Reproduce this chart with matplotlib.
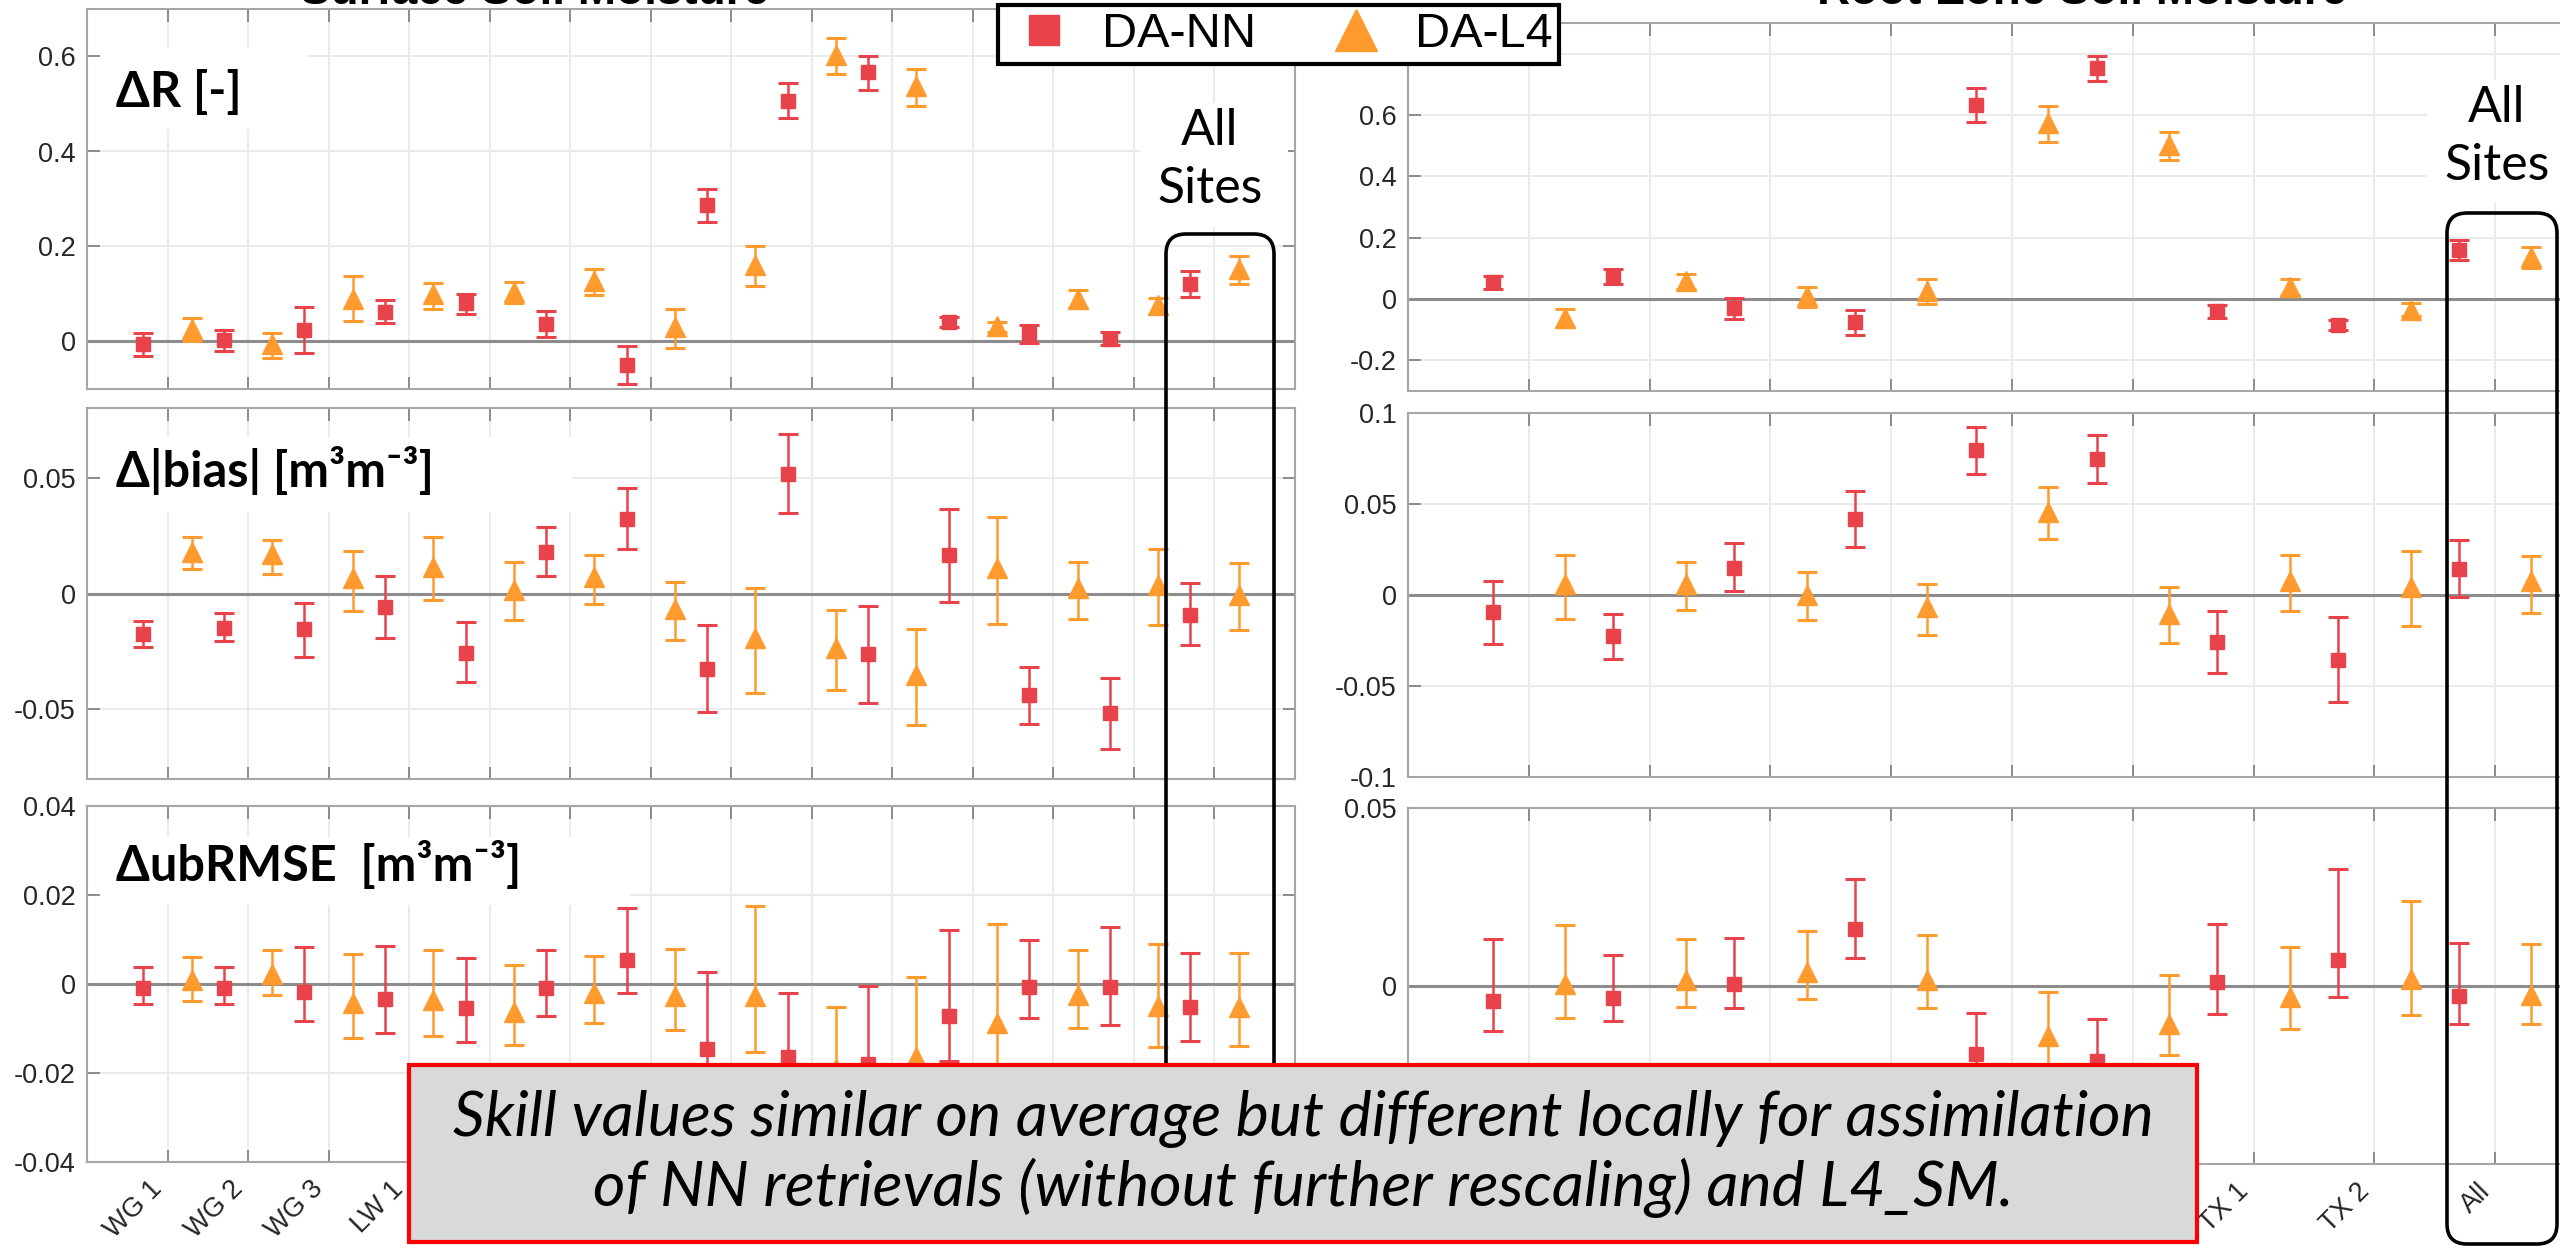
import matplotlib
matplotlib.use('Agg')
import matplotlib.pyplot as plt
import numpy as np
from matplotlib.lines import Line2D
from matplotlib.patches import Rectangle, FancyBboxPatch
from matplotlib.ticker import FuncFormatter

# ---- data ----
SURF_SITES = ['WG 1', 'WG 2', 'WG 3', 'LW 1', 'LW 2', 'LR 1', 'LR 2', 'RC 1', 'RC 2',
              'SJ 1', 'SJ 2', 'TX 1', 'TX 2', 'All']
ROOT_SITES = ['WG 1', 'WG 2', 'LW 1', 'LR 1', 'RC 1', 'SJ 1', 'TX 1', 'TX 2', 'All']

# surface, delta R
surf_r_nn = [-0.005, 0.004, 0.024, 0.063, 0.080, 0.037, -0.050, 0.288, 0.507, 0.567, 0.042, 0.015, 0.006, 0.121]
surf_r_nn_lo = [-0.030, -0.019, -0.025, 0.039, 0.058, 0.009, -0.089, 0.252, 0.470, 0.529, 0.030, -0.004, -0.008, 0.094]
surf_r_nn_hi = [0.018, 0.025, 0.072, 0.088, 0.101, 0.064, -0.010, 0.322, 0.544, 0.602, 0.052, 0.034, 0.021, 0.148]
surf_r_l4 = [0.027, -0.006, 0.090, 0.100, 0.105, 0.128, 0.030, 0.162, 0.603, 0.537, 0.033, 0.090, 0.076, 0.152]
surf_r_l4_lo = [0.000, -0.034, 0.043, 0.068, 0.082, 0.098, -0.013, 0.117, 0.563, 0.496, 0.021, 0.070, 0.058, 0.121]
surf_r_l4_hi = [0.050, 0.018, 0.137, 0.123, 0.126, 0.153, 0.069, 0.202, 0.639, 0.574, 0.041, 0.108, 0.092, 0.179]

# surface, delta |bias|
surf_bias_nn = [-0.0176, -0.0148, -0.0155, -0.0058, -0.0255, 0.0180, 0.0321, -0.0324, 0.0515, -0.0262, 0.0165, -0.0439, -0.0515, -0.0091]
surf_bias_nn_lo = [-0.0232, -0.0203, -0.0272, -0.0193, -0.0383, 0.0075, 0.0191, -0.0511, 0.0348, -0.0472, -0.0035, -0.0561, -0.0669, -0.0224]
surf_bias_nn_hi = [-0.0117, -0.0086, -0.0042, 0.0075, -0.0121, 0.0286, 0.0453, -0.0137, 0.0686, -0.0056, 0.0364, -0.0319, -0.0363, 0.0047]
surf_bias_l4 = [0.0180, 0.0170, 0.0065, 0.0115, 0.0014, 0.0072, -0.0065, -0.0194, -0.0237, -0.0353, 0.0108, 0.0022, 0.0036, -0.0007]
surf_bias_l4_lo = [0.0104, 0.0086, -0.0075, -0.0029, -0.0115, -0.0046, -0.0201, -0.0429, -0.0417, -0.0568, -0.0130, -0.0111, -0.0134, -0.0157]
surf_bias_l4_hi = [0.0243, 0.0230, 0.0184, 0.0242, 0.0137, 0.0165, 0.0050, 0.0022, -0.0073, -0.0153, 0.0331, 0.0137, 0.0190, 0.0131]

# surface, delta ubRMSE
surf_ub_nn = [-0.0010, -0.0010, -0.0019, -0.0034, -0.0055, -0.0010, 0.0055, -0.0146, -0.0163, -0.0180, -0.0073, -0.0006, -0.0006, -0.0051]
surf_ub_nn_lo = [-0.0046, -0.0046, -0.0083, -0.0110, -0.0130, -0.0073, -0.0020, -0.0300, -0.0300, -0.0350, -0.0174, -0.0077, -0.0092, -0.0127]
surf_ub_nn_hi = [0.0038, 0.0038, 0.0083, 0.0085, 0.0059, 0.0076, 0.0170, 0.0028, -0.0021, -0.0004, 0.0121, 0.0099, 0.0127, 0.0069]
surf_ub_l4 = [0.0009, 0.0022, -0.0043, -0.0036, -0.0062, -0.0021, -0.0026, -0.0027, -0.0190, -0.0163, -0.0088, -0.0025, -0.0049, -0.0052]
surf_ub_l4_lo = [-0.0038, -0.0025, -0.0121, -0.0116, -0.0138, -0.0087, -0.0103, -0.0152, -0.0330, -0.0320, -0.0300, -0.0099, -0.0142, -0.0139]
surf_ub_l4_hi = [0.0061, 0.0076, 0.0067, 0.0077, 0.0042, 0.0064, 0.0079, 0.0176, -0.0051, 0.0015, 0.0135, 0.0076, 0.0090, 0.0069]

# root zone, delta R
root_r_nn = [0.054, 0.074, -0.030, -0.076, 0.632, 0.752, -0.040, -0.084, 0.160]
root_r_nn_lo = [0.034, 0.049, -0.065, -0.118, 0.577, 0.712, -0.062, -0.100, 0.128]
root_r_nn_hi = [0.075, 0.099, 0.004, -0.035, 0.687, 0.793, -0.018, -0.067, 0.192]
root_r_l4 = [-0.062, 0.058, 0.010, 0.025, 0.575, 0.503, 0.040, -0.036, 0.137]
root_r_l4_lo = [-0.092, 0.031, -0.027, -0.017, 0.512, 0.453, 0.013, -0.057, 0.102]
root_r_l4_hi = [-0.034, 0.083, 0.040, 0.066, 0.630, 0.546, 0.064, -0.014, 0.169]

# root zone, delta |bias|
root_bias_nn = [-0.0092, -0.0227, 0.0149, 0.0418, 0.0794, 0.0748, -0.0257, -0.0356, 0.0143]
root_bias_nn_lo = [-0.0270, -0.0354, 0.0022, 0.0264, 0.0664, 0.0614, -0.0429, -0.0590, -0.0009]
root_bias_nn_hi = [0.0077, -0.0105, 0.0284, 0.0570, 0.0922, 0.0880, -0.0088, -0.0121, 0.0303]
root_bias_l4 = [0.0060, 0.0060, 0.0002, -0.0064, 0.0458, -0.0105, 0.0079, 0.0042, 0.0075]
root_bias_l4_lo = [-0.0130, -0.0081, -0.0136, -0.0220, 0.0308, -0.0264, -0.0090, -0.0169, -0.0097]
root_bias_l4_hi = [0.0220, 0.0182, 0.0127, 0.0062, 0.0592, 0.0046, 0.0220, 0.0242, 0.0215]

# root zone, delta ubRMSE
root_ub_nn = [-0.0043, -0.0034, 0.0006, 0.0161, -0.0190, -0.0211, 0.0010, 0.0074, -0.0029]
root_ub_nn_lo = [-0.0127, -0.0098, -0.0061, 0.0079, -0.0300, -0.0320, -0.0079, -0.0032, -0.0108]
root_ub_nn_hi = [0.0132, 0.0087, 0.0134, 0.0301, -0.0077, -0.0093, 0.0174, 0.0330, 0.0122]
root_ub_l4 = [0.0006, 0.0017, 0.0039, 0.0017, -0.0140, -0.0107, -0.0032, 0.0020, -0.0024]
root_ub_l4_lo = [-0.0090, -0.0058, -0.0037, -0.0063, -0.0260, -0.0195, -0.0120, -0.0081, -0.0107]
root_ub_l4_hi = [0.0172, 0.0132, 0.0154, 0.0142, -0.0016, 0.0030, 0.0110, 0.0240, 0.0119]

PANEL_LABELS = ['ΔR [-]', 'Δ|bias| [m³m⁻³]', 'ΔubRMSE  [m³m⁻³]']
CAPTION = ('Skill values similar on average but different locally for assimilation\n'
           'of NN retrievals (without further rescaling) and L4_SM.')

# ---- style / layout ----
W, H = 2560, 1246
RED = '#E8434A'
ORANGE = '#FF9A2E'
CAL = ['Lato', 'DejaVu Sans']

plt.rcParams.update({
    'font.family': ['Liberation Sans', 'DejaVu Sans'],
    'axes.unicode_minus': False,
})

fig = plt.figure(figsize=(W / 100, H / 100), dpi=100)


def px_axes(x0, y0, x1, y1):
    return [x0 / W, 1 - y1 / H, (x1 - x0) / W, (y1 - y0) / H]


def px_rect(x0, y0, x1, y1, **kw):
    return Rectangle((x0 / 100, (H - y1) / 100), (x1 - x0) / 100, (y1 - y0) / 100,
                     transform=fig.dpi_scale_trans, **kw)


def draw_panel(ax, nn, nn_lo, nn_hi, l4, l4_lo, l4_hi, xmax, ylim, yticks):
    nn, nn_lo, nn_hi = np.array(nn), np.array(nn_lo), np.array(nn_hi)
    l4, l4_lo, l4_hi = np.array(l4), np.array(l4_lo), np.array(l4_hi)
    x = np.arange(1, len(nn) + 1)
    ax.axhline(0, color='#8C8C8C', lw=2.2, zorder=2)
    ax.errorbar(x - 0.3, nn, yerr=[nn - nn_lo, nn_hi - nn], fmt='s', color=RED, ms=9.5,
                elinewidth=1.8, capsize=7.5, capthick=2.2, zorder=4)
    ax.errorbar(x + 0.3, l4, yerr=[l4 - l4_lo, l4_hi - l4], fmt='^', color=ORANGE, ms=15,
                elinewidth=1.8, capsize=7, capthick=2.2, zorder=4)
    ax.set_xlim(0, xmax)
    ax.set_ylim(*ylim)
    ax.set_xticks(x)
    ax.set_yticks(yticks)
    ax.yaxis.set_major_formatter(FuncFormatter(lambda v, p: f'{v:g}'))
    ax.grid(True, color='#EBEBEB', lw=1.4)
    ax.set_axisbelow(True)
    ax.tick_params(direction='in', length=9, width=1.4, color='#8C8C8C', top=True, right=True,
                   labelsize=19.5, labelcolor='#262626')
    ax.tick_params(axis='y', pad=8)
    ax.tick_params(axis='x', pad=10, labelsize=19.5)
    for sp in ax.spines.values():
        sp.set_color('#A6A6A6')
        sp.set_linewidth(1.5)


LEFT_BOXES = [(87, 9, 1295, 389), (87, 408, 1295, 779), (87, 806, 1295, 1162)]
RIGHT_BOXES = [(1408, 23, 2560, 391), (1408, 413, 2560, 777), (1408, 808, 2560, 1164)]

surf = [
    (surf_r_nn, surf_r_nn_lo, surf_r_nn_hi, surf_r_l4, surf_r_l4_lo, surf_r_l4_hi,
     (-0.1, 0.7), [0, 0.2, 0.4, 0.6]),
    (surf_bias_nn, surf_bias_nn_lo, surf_bias_nn_hi, surf_bias_l4, surf_bias_l4_lo, surf_bias_l4_hi,
     (-0.08, 0.08), [-0.05, 0, 0.05]),
    (surf_ub_nn, surf_ub_nn_lo, surf_ub_nn_hi, surf_ub_l4, surf_ub_l4_lo, surf_ub_l4_hi,
     (-0.04, 0.04), [-0.04, -0.02, 0, 0.02, 0.04]),
]
root = [
    (root_r_nn, root_r_nn_lo, root_r_nn_hi, root_r_l4, root_r_l4_lo, root_r_l4_hi,
     (-0.3, 0.9), [-0.2, 0, 0.2, 0.4, 0.6, 0.8]),
    (root_bias_nn, root_bias_nn_lo, root_bias_nn_hi, root_bias_l4, root_bias_l4_lo, root_bias_l4_hi,
     (-0.1, 0.1), [-0.1, -0.05, 0, 0.05, 0.1]),
    (root_ub_nn, root_ub_nn_lo, root_ub_nn_hi, root_ub_l4, root_ub_l4_lo, root_ub_l4_hi,
     (-0.05, 0.05), [-0.05, 0, 0.05]),
]

for i in range(3):
    axl = fig.add_axes(px_axes(*LEFT_BOXES[i]))
    draw_panel(axl, *surf[i][:6], 15, surf[i][6], surf[i][7])
    axr = fig.add_axes(px_axes(*RIGHT_BOXES[i]))
    draw_panel(axr, *root[i][:6], (2560 - 1408) / 120.8, root[i][6], root[i][7])
    axr.spines['right'].set_visible(False)
    axr.tick_params(right=False)
    if i < 2:
        axl.tick_params(labelbottom=False)
        axr.tick_params(labelbottom=False)
    else:
        axl.set_xticklabels(SURF_SITES, rotation=45, ha='right')
        axr.set_xticklabels(ROOT_SITES, rotation=45, ha='right')

# titles (mostly cropped at the top edge)
fig.text(535 / W, 1 - 4 / H, 'Surface Soil Moisture', ha='center', va='baseline',
         fontsize=33, fontweight='bold')
fig.text(2082 / W, 1 - 4 / H, 'Root-Zone Soil Moisture', ha='center', va='baseline',
         fontsize=33, fontweight='bold')

# white backgrounds behind the annotations
for box in [(100, 47, 307, 130), (100, 437, 572, 512), (100, 837, 630, 905),
            (1140, 103, 1288, 227), (2427, 80, 2560, 203)]:
    fig.patches.append(px_rect(*box, facecolor='white', edgecolor='none', zorder=1))

for label, ybase in zip(PANEL_LABELS, [107, 487, 881]):
    fig.text(116 / W, 1 - ybase / H, label, ha='left', va='baseline', fontsize=35,
             fontweight='bold', family=CAL, zorder=3)

fig.text(1210 / W, 1 - 160 / H, 'All\nSites', ha='center', va='center', fontsize=36,
         family=CAL, linespacing=1.3, zorder=3)
fig.text(2497 / W, 1 - 137 / H, 'All\nSites', ha='center', va='center', fontsize=36,
         family=CAL, linespacing=1.3, zorder=3)

# rounded "All Sites" frames
for x0, y0, x1, y1 in [(1166, 234, 1274, 1225), (2447, 213, 2557, 1244)]:
    fig.patches.append(FancyBboxPatch((x0 / 100, (H - y1) / 100), (x1 - x0) / 100, (y1 - y0) / 100,
                                      boxstyle='round,pad=0,rounding_size=0.2',
                                      transform=fig.dpi_scale_trans, facecolor='none',
                                      edgecolor='black', lw=2.6, zorder=2))

# legend
h_nn = Line2D([], [], ls='none', marker='s', ms=22, color=RED)
h_l4 = Line2D([], [], ls='none', marker='^', ms=30, color=ORANGE)
leg = fig.legend([h_nn, h_l4], ['DA-NN', 'DA-L4'], ncol=2, loc='upper left',
                 bbox_to_anchor=(998 / W, 1 - 5 / H), fontsize=35, frameon=True, fancybox=False,
                 edgecolor='black', framealpha=1, borderpad=0.14, handlelength=1.6,
                 handletextpad=0.4, columnspacing=1.26, borderaxespad=0)
leg.get_frame().set_linewidth(3)
leg.set_zorder(5)

# caption box
fig.patches.append(px_rect(409, 1065, 2197, 1242, facecolor='#D9D9D9', edgecolor='#FF0000',
                           lw=3, zorder=6))
fig.text(1303 / W, 1 - 1154 / H, CAPTION, ha='center', va='center', multialignment='center',
         fontsize=45, fontstyle='italic', family=CAL, linespacing=1.22, zorder=7)

fig.savefig('out.png', dpi=100)
